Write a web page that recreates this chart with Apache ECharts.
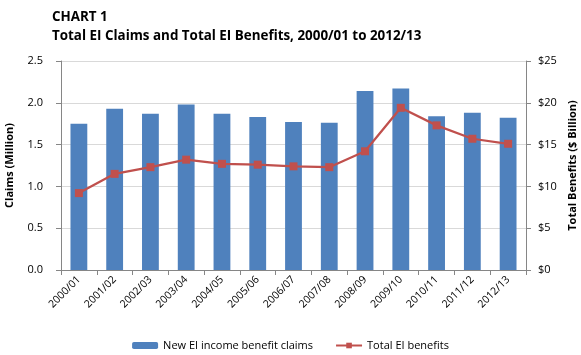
<!DOCTYPE html>
<html><head><meta charset="utf-8">
<script src="https://cdn.jsdelivr.net/npm/echarts@6/dist/echarts.min.js"></script>
<style>html,body{margin:0;padding:0;background:#fff}#c{width:581px;height:355px}</style>
</head><body><div id="c"></div>
<script>
const categories = ['2000/01','2001/02','2002/03','2003/04','2004/05','2005/06','2006/07','2007/08','2008/09','2009/10','2010/11','2011/12','2012/13'];
const claims = [1.75, 1.93, 1.87, 1.98, 1.87, 1.83, 1.77, 1.76, 2.14, 2.17, 1.84, 1.88, 1.82];
const benefits = [9.2, 11.5, 12.3, 13.2, 12.7, 12.6, 12.4, 12.3, 14.2, 19.4, 17.3, 15.7, 15.1];
const leftTicks = [0, 0.5, 1.0, 1.5, 2.0, 2.5];
const rightTicks = [0, 5, 10, 15, 20, 25];

const FONT = '"Open Sans", "Liberation Sans", sans-serif';
const chart = echarts.init(document.getElementById('c'), null, {renderer: 'canvas'});
chart.setOption({
  animation: false,
  title: [{
    text: 'CHART 1\nTotal EI Claims and Total EI Benefits, 2000/01 to 2012/13',
    left: 47, top: 3,
    textStyle: {fontFamily: FONT, fontWeight: 'bold', fontSize: 13.4, color: '#000', lineHeight: 19}
  }],
  legend: {
    bottom: -1, left: 'center',
    itemWidth: 26, itemHeight: 7, itemGap: 22,
    textStyle: {fontFamily: FONT, fontSize: 11, color: '#000'},
    data: ['New EI income benefit claims', 'Total EI benefits']
  },
  grid: {left: 61, right: 55, top: 61, bottom: 85, containLabel: false, outerBoundsMode: 'none'},
  xAxis: {
    type: 'category', data: categories,
    axisLine: {lineStyle: {color: '#868686'}},
    axisTick: {show: true, alignWithLabel: false, lineStyle: {color: '#868686'}},
    axisLabel: {rotate: 45, fontFamily: FONT, fontSize: 10.5, color: '#000', interval: 0, margin: 8}
  },
  yAxis: [{
    type: 'value', min: 0, max: 2.5, interval: 0.5,
    name: 'Claims (Million)', nameLocation: 'middle', nameGap: 46, nameRotate: 90,
    nameTextStyle: {fontFamily: FONT, fontWeight: 'bold', fontSize: 11, color: '#000'},
    axisLine: {show: true, lineStyle: {color: '#868686'}},
    axisTick: {show: true, length: 5, lineStyle: {color: '#868686'}},
    axisLabel: {fontFamily: FONT, fontSize: 11, color: '#000', margin: 18, formatter: v => leftTicks.includes(v) ? v.toFixed(1) : ''},
    splitLine: {lineStyle: {color: '#d9d9d9'}}
  }, {
    type: 'value', min: 0, max: 25, interval: 5, position: 'right',
    name: 'Total Benefits ($ Billion)', nameLocation: 'middle', nameGap: 40, nameRotate: 90,
    nameTextStyle: {fontFamily: FONT, fontWeight: 'bold', fontSize: 11, color: '#000'},
    axisLine: {show: true, lineStyle: {color: '#868686'}},
    axisTick: {show: true, length: 5, lineStyle: {color: '#868686'}},
    axisLabel: {fontFamily: FONT, fontSize: 11, color: '#000', margin: 12, formatter: v => rightTicks.includes(v) ? '$' + v : ''},
    splitLine: {show: false}
  }],
  series: [{
    name: 'New EI income benefit claims', type: 'bar', data: claims,
    barWidth: '47%', itemStyle: {color: '#4f81bd'}
  }, {
    name: 'Total EI benefits', type: 'line', yAxisIndex: 1, data: benefits,
    symbol: 'rect', symbolSize: 8,
    lineStyle: {color: '#c0504d', width: 2.25},
    itemStyle: {color: '#c0504d'}
  }]
});
</script></body></html>
